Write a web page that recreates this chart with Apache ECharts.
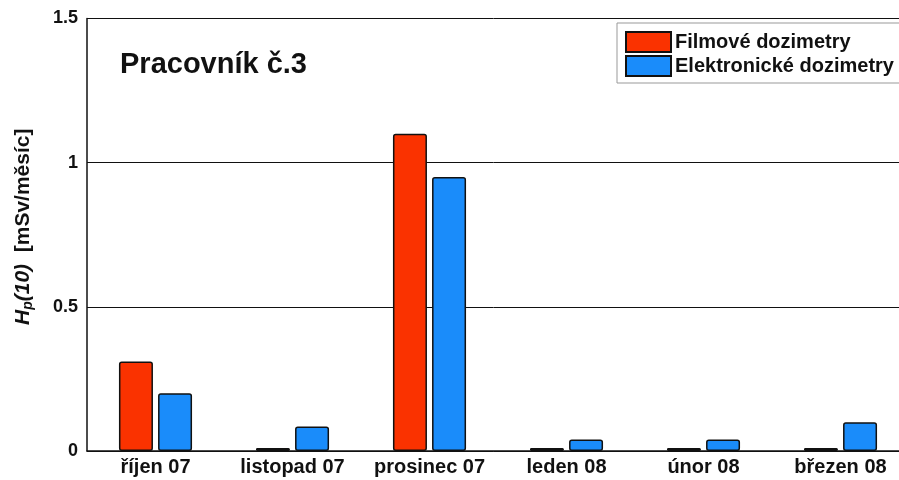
<!DOCTYPE html>
<html>
<head>
<meta charset="utf-8">
<script src="https://cdn.jsdelivr.net/npm/echarts@6/dist/echarts.min.js"></script>
<style>
  html, body { margin: 0; padding: 0; background: #fff; }
  #chart { width: 899px; height: 480px; }
</style>
</head>
<body>
<div id="chart"></div>
<script>
// Monthly personal dose equivalent Hp(10) for worker no. 3
const months = ['říjen 07', 'listopad 07', 'prosinec 07', 'leden 08', 'únor 08', 'březen 08'];
const filmDose = [0.31, 0.01, 1.10, 0.01, 0.01, 0.01];
const electronicDose = [0.20, 0.085, 0.95, 0.04, 0.04, 0.10];
const seriesNames = ['Filmové dozimetry', 'Elektronické dozimetry'];
const yTicks = [0, 0.5, 1, 1.5];

const FONT = '"Liberation Sans", Arial, Helvetica, sans-serif';
const chart = echarts.init(document.getElementById('chart'));

const barStyle = (color) => ({
  color: color,
  borderColor: '#111',
  borderWidth: 1.5,
  borderRadius: 2
});

chart.setOption({
  animation: false,
  backgroundColor: '#fff',
  textStyle: { fontFamily: FONT },
  title: {
    text: 'Pracovník č.3',
    left: 120,
    top: 50,
    padding: 0,
    textStyle: { fontFamily: FONT, fontWeight: 'bold', fontSize: 29, color: '#111' }
  },
  legend: {
    orient: 'vertical',
    left: 617,
    top: 23,
    padding: [8, 30, 6, 8],
    itemWidth: 45,
    itemHeight: 20,
    itemGap: 2,
    backgroundColor: '#fff',
    borderColor: '#999',
    borderWidth: 1,
    icon: 'rect',
    textStyle: { fontFamily: FONT, fontWeight: 'bold', fontSize: 20, color: '#111', padding: [0, 0, 0, -1] },
    data: seriesNames
  },
  grid: {
    left: 87,
    top: 18.5,
    width: 822,
    height: 432.5,
    containLabel: false,
    outerBoundsMode: 'none'
  },
  xAxis: {
    type: 'category',
    data: months,
    axisLine: { lineStyle: { color: '#111', width: 1.5 } },
    axisTick: { show: false },
    axisLabel: {
      interval: 0,
      hideOverlap: false,
      fontFamily: FONT, fontWeight: 'bold', fontSize: 20, color: '#111', margin: 6
    }
  },
  yAxis: {
    type: 'value',
    min: yTicks[0],
    max: yTicks[yTicks.length - 1],
    interval: 0.5,
    axisLine: { show: true, lineStyle: { color: '#111', width: 1.5 } },
    axisTick: { show: true, inside: true, length: 4, lineStyle: { color: '#111' } },
    splitLine: { show: true, lineStyle: { color: '#111', width: 1 } },
    axisLabel: { fontFamily: FONT, fontWeight: 'bold', fontSize: 18, color: '#111', margin: 9 },
    name: '{i|H}{sub|p}{i|(10)}  [mSv/měsíc]',
    nameLocation: 'middle',
    nameRotate: 90,
    nameGap: 52,
    nameTextStyle: {
      fontFamily: FONT, fontWeight: 'bold', fontSize: 21, color: '#111',
      padding: [0, 0, 0, 16],
      rich: {
        i: { fontFamily: FONT, fontWeight: 'bold', fontStyle: 'italic', fontSize: 21, color: '#111' },
        sub: { fontFamily: FONT, fontWeight: 'bold', fontStyle: 'italic', fontSize: 14, color: '#111', padding: [10, 0, 0, 0] }
      }
    }
  },
  series: [
    {
      name: seriesNames[0],
      type: 'bar',
      data: filmDose,
      barWidth: 34,
      barGap: '15%',
      itemStyle: barStyle('#fa3200')
    },
    {
      name: seriesNames[1],
      type: 'bar',
      data: electronicDose,
      barWidth: 34,
      barGap: '15%',
      itemStyle: barStyle('#1a8cfa')
    }
  ]
});
</script>
</body>
</html>
